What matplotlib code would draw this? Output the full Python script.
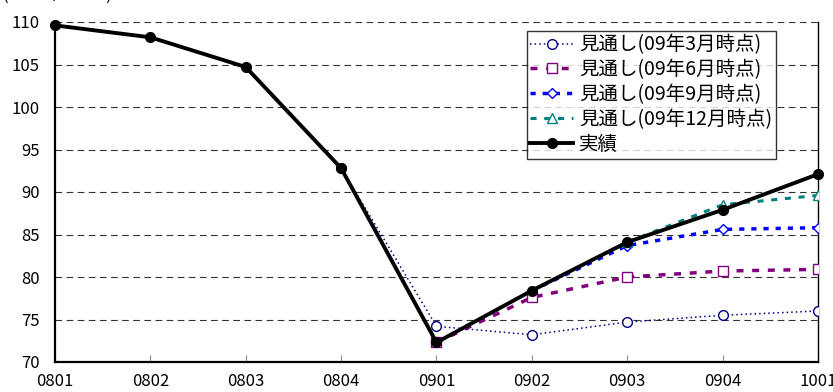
import matplotlib
matplotlib.use("Agg")
import matplotlib.pyplot as plt

plt.rcParams['font.family'] = ['Noto Sans CJK JP', 'DejaVu Sans']

periods = ["0801", "0802", "0803", "0804", "0901", "0902", "0903", "0904", "1001"]

actual = [109.6, 108.2, 104.7, 92.8, 72.3, 78.4, 84.1, 87.9, 92.1]

# Forecast series start at the last actual point available at that time
fc_mar = [None, None, None, 92.8, 74.2, 73.2, 74.7, 75.5, 76.0]
fc_jun = [None, None, None, None, 72.3, 77.6, 80.0, 80.7, 80.9]
fc_sep = [None, None, None, None, None, 78.4, 83.7, 85.6, 85.8]
fc_dec = [None, None, None, None, None, None, 84.1, 88.5, 89.6]

labels = ["見通し(09年3月時点)", "見通し(09年6月時点)", "見通し(09年9月時点)",
          "見通し(09年12月時点)", "実績"]

fig = plt.figure(figsize=(8.33, 3.92), dpi=100)
ax = fig.add_axes([55/833, 1 - 362/392, (818-55)/833, (362-22)/392])

x = list(range(len(periods)))

def pts(vals):
    xs = [i for i, v in zip(x, vals) if v is not None]
    ys = [v for v in vals if v is not None]
    return xs, ys

xs, ys = pts(fc_mar)
ax.plot(xs, ys, color="#000080", lw=1.1, linestyle=(0, (1, 2)), marker="o",
        ms=7, mfc="white", mec="#000080", mew=1.0, label=labels[0], zorder=3)
xs, ys = pts(fc_jun)
ax.plot(xs, ys, color="#800080", lw=2.5, linestyle=(0, (2, 2.5)), marker="s",
        ms=7, mfc="white", mec="#800080", mew=1.0, label=labels[1], zorder=3)
xs, ys = pts(fc_sep)
ax.plot(xs, ys, color="#0000FF", lw=2.5, linestyle=(0, (1.5, 2)), marker="D",
        ms=5.5, mfc="white", mec="#0000FF", mew=1.0, label=labels[2], zorder=3)
xs, ys = pts(fc_dec)
ax.plot(xs, ys, color="#008080", lw=2.2, linestyle=(0, (2, 2.5)), marker="^",
        ms=7, mfc="white", mec="#008080", mew=1.0, label=labels[3], zorder=3)
ax.plot(x, actual, color="black", lw=2.8, marker="o", ms=7, mfc="black",
        mec="black", label=labels[4], zorder=4, clip_on=False)

ax.set_xlim(0, len(periods) - 1)
ax.set_ylim(70, 110)
ax.set_yticks(range(70, 111, 5))
ax.set_xticks(x)
ax.set_xticklabels(periods)

for yv in range(75, 111, 5):
    ax.axhline(yv, color="#333333", lw=0.8, linestyle=(0, (6, 4)), zorder=1)

ax.spines["top"].set_visible(False)
for s in ("left", "bottom", "right"):
    ax.spines[s].set_linewidth(1.6 if s != "right" else 1.0)
    ax.spines[s].set_color("black")

ax.tick_params(axis="y", length=0, labelsize=12, pad=11)
ax.tick_params(axis="x", direction="in", length=5, color="#888888",
               labelsize=12, pad=8)

leg = ax.legend(loc="upper left", bbox_to_anchor=(0.618, 0.975), fontsize=14,
                frameon=True, fancybox=False, edgecolor="black",
                handlelength=2.2, handletextpad=0.3, labelspacing=0.2,
                borderpad=0.2, borderaxespad=0)
leg.get_frame().set_linewidth(1.0)

fig.text(0.003, 1.012, "(2005年＝100)", fontsize=12, va="center", ha="left")

fig.savefig("out.png", dpi=100)
